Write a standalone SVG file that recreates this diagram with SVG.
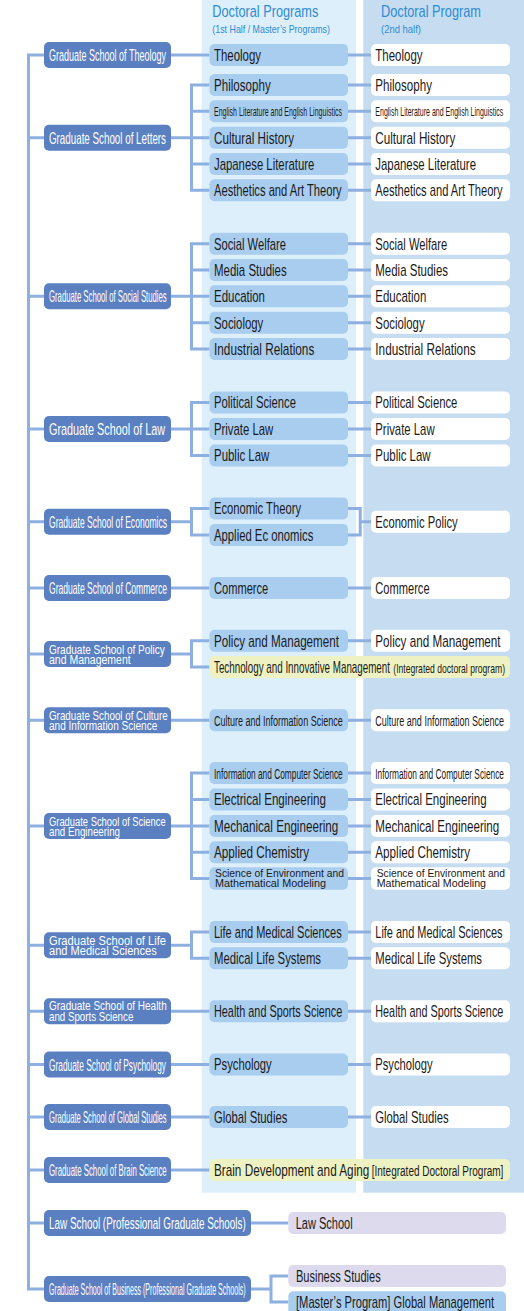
<svg xmlns="http://www.w3.org/2000/svg" width="524" height="1311" viewBox="0 0 524 1311">
<style>
.band1{fill:#ddeffa}.band2{fill:#c6ddf1}
.sch{fill:#5a80c2}.p1{fill:#a9cdef}.p2{fill:#ffffff}.py{fill:#eef2c2}.pl{fill:#dddaee}
.conn{fill:none;stroke:#8db0e0;stroke-width:3}
text{font-family:"Liberation Sans",Arial,sans-serif}
.ts{fill:#ffffff}.tp{fill:#1a1a1a}.hd{fill:#2e8bd3}
</style>
<rect class="band1" x="201.7" y="0" width="154.3" height="1192.7"/>
<rect class="band2" x="363.3" y="0" width="160.7" height="1192.7"/>
<g id="header">
<text class="hd" font-size="12.47" textLength="106" lengthAdjust="spacingAndGlyphs" transform="translate(212.3 17) scale(1 1.363)">Doctoral Programs</text>
<text class="hd" font-size="7.85" textLength="117.7" lengthAdjust="spacingAndGlyphs" transform="translate(212.3 33) scale(1 1.338)">(1st Half / Master’s Programs)</text>
<text class="hd" font-size="12.5" textLength="100" lengthAdjust="spacingAndGlyphs" transform="translate(381 17) scale(1 1.36)">Doctoral Program</text>
<text class="hd" font-size="8" textLength="40" lengthAdjust="spacingAndGlyphs" transform="translate(381 33) scale(1 1.3125)">(2nd half)</text>
</g>
<g id="connectors" class="conn">
<path d="M44 55 H28.5 V1289 H44"/>
<path d="M28.5 137.7 H44 M28.5 296.3 H44 M28.5 429 H44 M28.5 521.7 H44 M28.5 588 H44 M28.5 654 H44 M28.5 720.3 H44 M28.5 826 H44 M28.5 945.3 H44 M28.5 1011.3 H44 M28.5 1064.5 H44 M28.5 1117 H44 M28.5 1170 H44 M28.5 1223 H44"/>
<path d="M171 55 H209.5 M348 55 H371"/>
<path d="M171 137.7 H191.5 M209.5 85 H191.5 V190.3 H209.5 M191.5 111.3 H209.5 M191.5 137.7 H209.5 M191.5 164 H209.5"/>
<path d="M348 85 H371 M348 111.3 H371 M348 137.7 H371 M348 164 H371 M348 190.3 H371"/>
<path d="M171 296.3 H191.5 M209.5 243.7 H191.5 V349 H209.5 M191.5 270 H209.5 M191.5 296.3 H209.5 M191.5 322.7 H209.5"/>
<path d="M348 243.7 H371 M348 270 H371 M348 296.3 H371 M348 322.7 H371 M348 349 H371"/>
<path d="M171 429 H191.5 M209.5 402.5 H191.5 V455.5 H209.5 M191.5 429 H209.5"/>
<path d="M348 402.5 H371 M348 429 H371 M348 455.5 H371"/>
<path d="M171 521.7 H191.5 M209.5 508.5 H191.5 V535 H209.5"/>
<path d="M348 508.5 H360.2 V535 H348 M360.2 521.7 H371"/>
<path d="M171 588 H209.5 M348 588 H371"/>
<path d="M171 654 H191.5 M209.5 640.7 H191.5 V667 H209.5 M348 640.7 H371"/>
<path d="M171 720.3 H209.5 M348 720.3 H371"/>
<path d="M171 826 H191.5 M209.5 773 H191.5 V878.5 H209.5 M191.5 799.5 H209.5 M191.5 826 H209.5 M191.5 852.3 H209.5"/>
<path d="M348 773 H371 M348 799.5 H371 M348 826 H371 M348 852.3 H371 M348 878.5 H371"/>
<path d="M171 945.3 H191.5 M209.5 932 H191.5 V958.3 H209.5 M348 932 H371 M348 958.3 H371"/>
<path d="M171 1011.3 H209.5 M348 1011.3 H371"/>
<path d="M171 1064.5 H209.5 M348 1064.5 H371"/>
<path d="M171 1117 H209.5 M348 1117 H371"/>
<path d="M171 1170 H209.5"/>
<path d="M251 1223 H288.3"/>
<path d="M251 1289 H271 M288.3 1276 H271 V1302 H288.3"/>
</g>
<g id="theology">
<rect class="sch" x="44" y="42" width="127" height="26" rx="5"/>
<text class="ts" font-size="8.67" textLength="117" lengthAdjust="spacingAndGlyphs" transform="translate(49 61) scale(1 1.903)">Graduate School of Theology</text>
<rect class="p1" x="209.5" y="44" width="138.5" height="22" rx="5"/>
<text class="tp" font-size="11.75" textLength="47" lengthAdjust="spacingAndGlyphs" transform="translate(214 60.8) scale(1 1.362)">Theology</text>
<rect class="p2" x="371" y="44" width="139" height="22" rx="5"/>
<text class="tp" font-size="11.75" textLength="47.3" lengthAdjust="spacingAndGlyphs" transform="translate(375.3 60.8) scale(1 1.362)">Theology</text>
</g>
<g id="letters">
<rect class="sch" x="44" y="124.7" width="127" height="26" rx="5"/>
<text class="ts" font-size="9" textLength="117" lengthAdjust="spacingAndGlyphs" transform="translate(49 143.7) scale(1 1.833)">Graduate School of Letters</text>
<rect class="p1" x="209.5" y="74" width="138.5" height="22" rx="5"/>
<text class="tp" font-size="11.34" textLength="56.7" lengthAdjust="spacingAndGlyphs" transform="translate(214 90.8) scale(1 1.411)">Philosophy</text>
<rect class="p2" x="371" y="74" width="139" height="22" rx="5"/>
<text class="tp" font-size="11.34" textLength="56.7" lengthAdjust="spacingAndGlyphs" transform="translate(375.3 90.8) scale(1 1.411)">Philosophy</text>
<rect class="p1" x="209.5" y="100.3" width="138.5" height="22" rx="5"/>
<text class="tp" font-size="6.1" textLength="128" lengthAdjust="spacingAndGlyphs" transform="translate(214 115.6) scale(1 2.05)">English Literature and English Linguistics</text>
<rect class="p2" x="371" y="100.3" width="139" height="22" rx="5"/>
<text class="tp" font-size="6.1" textLength="128" lengthAdjust="spacingAndGlyphs" transform="translate(375.3 115.6) scale(1 2.05)">English Literature and English Linguistics</text>
<rect class="p1" x="209.5" y="126.7" width="138.5" height="22" rx="5"/>
<text class="tp" font-size="10" textLength="80" lengthAdjust="spacingAndGlyphs" transform="translate(214 143.5) scale(1 1.6)">Cultural History</text>
<rect class="p2" x="371" y="126.7" width="139" height="22" rx="5"/>
<text class="tp" font-size="10" textLength="80" lengthAdjust="spacingAndGlyphs" transform="translate(375.3 143.5) scale(1 1.6)">Cultural History</text>
<rect class="p1" x="209.5" y="153" width="138.5" height="22" rx="5"/>
<text class="tp" font-size="10.56" textLength="100.3" lengthAdjust="spacingAndGlyphs" transform="translate(214 169.8) scale(1 1.515)">Japanese Literature</text>
<rect class="p2" x="371" y="153" width="139" height="22" rx="5"/>
<text class="tp" font-size="10.56" textLength="100.7" lengthAdjust="spacingAndGlyphs" transform="translate(375.3 169.8) scale(1 1.515)">Japanese Literature</text>
<rect class="p1" x="209.5" y="179.3" width="138.5" height="22" rx="5"/>
<text class="tp" font-size="10.2" textLength="127.7" lengthAdjust="spacingAndGlyphs" transform="translate(214 196.1) scale(1 1.569)">Aesthetics and Art Theory</text>
<rect class="p2" x="371" y="179.3" width="139" height="22" rx="5"/>
<text class="tp" font-size="10.2" textLength="127.3" lengthAdjust="spacingAndGlyphs" transform="translate(375.3 196.1) scale(1 1.569)">Aesthetics and Art Theory</text>
</g>
<g id="social">
<rect class="sch" x="44" y="283.3" width="127" height="26" rx="5"/>
<text class="ts" font-size="7.13" textLength="117.7" lengthAdjust="spacingAndGlyphs" transform="translate(49 302.3) scale(1 2.314)">Graduate School of Social Studies</text>
<rect class="p1" x="209.5" y="232.7" width="138.5" height="22" rx="5"/>
<text class="tp" font-size="10.29" textLength="72" lengthAdjust="spacingAndGlyphs" transform="translate(214 249.5) scale(1 1.556)">Social Welfare</text>
<rect class="p2" x="371" y="232.7" width="139" height="22" rx="5"/>
<text class="tp" font-size="10.29" textLength="72" lengthAdjust="spacingAndGlyphs" transform="translate(375.3 249.5) scale(1 1.556)">Social Welfare</text>
<rect class="p1" x="209.5" y="259" width="138.5" height="22" rx="5"/>
<text class="tp" font-size="11.18" textLength="72.7" lengthAdjust="spacingAndGlyphs" transform="translate(214 275.8) scale(1 1.431)">Media Studies</text>
<rect class="p2" x="371" y="259" width="139" height="22" rx="5"/>
<text class="tp" font-size="11.18" textLength="72.7" lengthAdjust="spacingAndGlyphs" transform="translate(375.3 275.8) scale(1 1.431)">Media Studies</text>
<rect class="p1" x="209.5" y="285.3" width="138.5" height="22" rx="5"/>
<text class="tp" font-size="11.33" textLength="51" lengthAdjust="spacingAndGlyphs" transform="translate(214 302.1) scale(1 1.412)">Education</text>
<rect class="p2" x="371" y="285.3" width="139" height="22" rx="5"/>
<text class="tp" font-size="11.33" textLength="51" lengthAdjust="spacingAndGlyphs" transform="translate(375.3 302.1) scale(1 1.412)">Education</text>
<rect class="p1" x="209.5" y="311.7" width="138.5" height="22" rx="5"/>
<text class="tp" font-size="10.96" textLength="49.3" lengthAdjust="spacingAndGlyphs" transform="translate(214 328.5) scale(1 1.46)">Sociology</text>
<rect class="p2" x="371" y="311.7" width="139" height="22" rx="5"/>
<text class="tp" font-size="10.96" textLength="49.3" lengthAdjust="spacingAndGlyphs" transform="translate(375.3 328.5) scale(1 1.46)">Sociology</text>
<rect class="p1" x="209.5" y="338" width="138.5" height="22" rx="5"/>
<text class="tp" font-size="10.03" textLength="100.3" lengthAdjust="spacingAndGlyphs" transform="translate(214 354.8) scale(1 1.595)">Industrial Relations</text>
<rect class="p2" x="371" y="338" width="139" height="22" rx="5"/>
<text class="tp" font-size="10.03" textLength="100.3" lengthAdjust="spacingAndGlyphs" transform="translate(375.3 354.8) scale(1 1.595)">Industrial Relations</text>
</g>
<g id="law">
<rect class="sch" x="44" y="416" width="127" height="26" rx="5"/>
<text class="ts" font-size="10.55" textLength="116" lengthAdjust="spacingAndGlyphs" transform="translate(49 435) scale(1 1.564)">Graduate School of Law</text>
<rect class="p1" x="209.5" y="391.5" width="138.5" height="22" rx="5"/>
<text class="tp" font-size="9.65" textLength="82" lengthAdjust="spacingAndGlyphs" transform="translate(214 408.3) scale(1 1.658)">Political Science</text>
<rect class="p2" x="371" y="391.5" width="139" height="22" rx="5"/>
<text class="tp" font-size="9.65" textLength="82" lengthAdjust="spacingAndGlyphs" transform="translate(375.3 408.3) scale(1 1.658)">Political Science</text>
<rect class="p1" x="209.5" y="418" width="138.5" height="22" rx="5"/>
<text class="tp" font-size="10.78" textLength="59.3" lengthAdjust="spacingAndGlyphs" transform="translate(214 434.8) scale(1 1.484)">Private Law</text>
<rect class="p2" x="371" y="418" width="139" height="22" rx="5"/>
<text class="tp" font-size="10.78" textLength="59.3" lengthAdjust="spacingAndGlyphs" transform="translate(375.3 434.8) scale(1 1.484)">Private Law</text>
<rect class="p1" x="209.5" y="444.5" width="138.5" height="22" rx="5"/>
<text class="tp" font-size="11.06" textLength="55.3" lengthAdjust="spacingAndGlyphs" transform="translate(214 461.3) scale(1 1.447)">Public Law</text>
<rect class="p2" x="371" y="444.5" width="139" height="22" rx="5"/>
<text class="tp" font-size="11.06" textLength="55.3" lengthAdjust="spacingAndGlyphs" transform="translate(375.3 461.3) scale(1 1.447)">Public Law</text>
</g>
<g id="economics">
<rect class="sch" x="44" y="508.7" width="127" height="26" rx="5"/>
<text class="ts" font-size="8.43" textLength="118" lengthAdjust="spacingAndGlyphs" transform="translate(49 527.7) scale(1 1.957)">Graduate School of Economics</text>
<rect class="p1" x="209.5" y="497.5" width="138.5" height="22" rx="5"/>
<text class="tp" font-size="11.6" textLength="87" lengthAdjust="spacingAndGlyphs" transform="translate(214 514.3) scale(1 1.379)">Economic Theory</text>
<rect class="p1" x="209.5" y="524" width="138.5" height="22" rx="5"/>
<text class="tp" font-size="11.03" textLength="99.3" lengthAdjust="spacingAndGlyphs" transform="translate(214 540.8) scale(1 1.45)">Applied Ec onomics</text>
<rect class="p2" x="371" y="510.7" width="139" height="22" rx="5"/>
<text class="tp" font-size="10.97" textLength="82.3" lengthAdjust="spacingAndGlyphs" transform="translate(375.3 527.5) scale(1 1.458)">Economic Policy</text>
</g>
<g id="commerce">
<rect class="sch" x="44" y="575" width="127" height="26" rx="5"/>
<text class="ts" font-size="8.74" textLength="118" lengthAdjust="spacingAndGlyphs" transform="translate(49 594) scale(1 1.888)">Graduate School of Commerce</text>
<rect class="p1" x="209.5" y="577" width="138.5" height="22" rx="5"/>
<text class="tp" font-size="12.5" textLength="54.3" lengthAdjust="spacingAndGlyphs" transform="translate(214 593.8) scale(1 1.28)">Commerce</text>
<rect class="p2" x="371" y="577" width="139" height="22" rx="5"/>
<text class="tp" font-size="12.5" textLength="54.3" lengthAdjust="spacingAndGlyphs" transform="translate(375.3 593.8) scale(1 1.28)">Commerce</text>
</g>
<g id="policy">
<rect class="sch" x="44" y="641" width="127" height="26" rx="5"/>
<text class="ts" font-size="9.26" textLength="115.7" lengthAdjust="spacingAndGlyphs" transform="translate(49 653.5) scale(1 1.458)">Graduate School of Policy</text>
<text class="ts" font-size="11" textLength="81.7" lengthAdjust="spacingAndGlyphs" transform="translate(49 664) scale(1 1.227)">and Management</text>
<rect class="p1" x="209.5" y="629.7" width="138.5" height="22" rx="5"/>
<text class="tp" font-size="11.9" textLength="125" lengthAdjust="spacingAndGlyphs" transform="translate(214 646.5) scale(1 1.344)">Policy and Management</text>
<rect class="p2" x="371" y="629.7" width="139" height="22" rx="5"/>
<text class="tp" font-size="11.9" textLength="125.3" lengthAdjust="spacingAndGlyphs" transform="translate(375.3 646.5) scale(1 1.344)">Policy and Management</text>
<rect class="py" x="209.5" y="656" width="300.5" height="22" rx="5"/>
<text class="tp" font-size="9.78" textLength="176" lengthAdjust="spacingAndGlyphs" transform="translate(214 672.6) scale(1 1.636)">Technology and Innovative Management</text>
<text class="tp" font-size="7.7" textLength="111.7" lengthAdjust="spacingAndGlyphs" transform="translate(393.3 672.6) scale(1 1.623)">(Integrated doctoral program)</text>
</g>
<g id="culture">
<rect class="sch" x="44" y="707.3" width="127" height="26" rx="5"/>
<text class="ts" font-size="9.13" textLength="118.7" lengthAdjust="spacingAndGlyphs" transform="translate(49 719.8) scale(1 1.479)">Graduate School of Culture</text>
<text class="ts" font-size="9.42" textLength="108.3" lengthAdjust="spacingAndGlyphs" transform="translate(49 730.3) scale(1 1.433)">and Information Science</text>
<rect class="p1" x="209.5" y="709.3" width="138.5" height="22" rx="5"/>
<text class="tp" font-size="8.3" textLength="128.7" lengthAdjust="spacingAndGlyphs" transform="translate(214 725.5) scale(1 1.747)">Culture and Information Science</text>
<rect class="p2" x="371" y="709.3" width="139" height="22" rx="5"/>
<text class="tp" font-size="8.3" textLength="128.7" lengthAdjust="spacingAndGlyphs" transform="translate(375.3 725.5) scale(1 1.747)">Culture and Information Science</text>
</g>
<g id="science">
<rect class="sch" x="44" y="813" width="127" height="26" rx="5"/>
<text class="ts" font-size="8.98" textLength="116.7" lengthAdjust="spacingAndGlyphs" transform="translate(49 825.5) scale(1 1.503)">Graduate School of Science</text>
<text class="ts" font-size="9.47" textLength="71" lengthAdjust="spacingAndGlyphs" transform="translate(49 836) scale(1 1.426)">and Engineering</text>
<rect class="p1" x="209.5" y="762" width="138.5" height="22" rx="5"/>
<text class="tp" font-size="8.04" textLength="128.7" lengthAdjust="spacingAndGlyphs" transform="translate(214 778.5) scale(1 1.803)">Information and Computer Science</text>
<rect class="p2" x="371" y="762" width="139" height="22" rx="5"/>
<text class="tp" font-size="8.04" textLength="128.7" lengthAdjust="spacingAndGlyphs" transform="translate(375.3 778.5) scale(1 1.803)">Information and Computer Science</text>
<rect class="p1" x="209.5" y="788.5" width="138.5" height="22" rx="5"/>
<text class="tp" font-size="10.18" textLength="112" lengthAdjust="spacingAndGlyphs" transform="translate(214 805.3) scale(1 1.571)">Electrical Engineering</text>
<rect class="p2" x="371" y="788.5" width="139" height="22" rx="5"/>
<text class="tp" font-size="10.18" textLength="111.3" lengthAdjust="spacingAndGlyphs" transform="translate(375.3 805.3) scale(1 1.571)">Electrical Engineering</text>
<rect class="p1" x="209.5" y="815" width="138.5" height="22" rx="5"/>
<text class="tp" font-size="11.3" textLength="124.3" lengthAdjust="spacingAndGlyphs" transform="translate(214 831.8) scale(1 1.416)">Mechanical Engineering</text>
<rect class="p2" x="371" y="815" width="139" height="22" rx="5"/>
<text class="tp" font-size="11.3" textLength="124" lengthAdjust="spacingAndGlyphs" transform="translate(375.3 831.8) scale(1 1.416)">Mechanical Engineering</text>
<rect class="p1" x="209.5" y="841.3" width="138.5" height="22" rx="5"/>
<text class="tp" font-size="11.18" textLength="95" lengthAdjust="spacingAndGlyphs" transform="translate(214 858.1) scale(1 1.431)">Applied Chemistry</text>
<rect class="p2" x="371" y="841.3" width="139" height="22" rx="5"/>
<text class="tp" font-size="11.18" textLength="94.7" lengthAdjust="spacingAndGlyphs" transform="translate(375.3 858.1) scale(1 1.431)">Applied Chemistry</text>
<rect class="p1" x="209.5" y="867.3" width="138.5" height="22.5" rx="5"/>
<text class="tp" font-size="9.92" textLength="129" lengthAdjust="spacingAndGlyphs" transform="translate(215 876.7) scale(1 1.058)">Science of Environment and</text>
<text class="tp" font-size="10.5" textLength="111" lengthAdjust="spacingAndGlyphs" transform="translate(215 886.7)">Mathematical Modeling</text>
<rect class="p2" x="371" y="867.3" width="139" height="22.5" rx="5"/>
<text class="tp" font-size="9.92" textLength="128.3" lengthAdjust="spacingAndGlyphs" transform="translate(376.7 876.7) scale(1 1.058)">Science of Environment and</text>
<text class="tp" font-size="10.5" textLength="109.3" lengthAdjust="spacingAndGlyphs" transform="translate(376.7 886.7)">Mathematical Modeling</text>
</g>
<g id="life">
<rect class="sch" x="44" y="932.3" width="127" height="26" rx="5"/>
<text class="ts" font-size="10.17" textLength="117" lengthAdjust="spacingAndGlyphs" transform="translate(49 944.5) scale(1 1.327)">Graduate School of Life</text>
<text class="ts" font-size="10.77" textLength="107.7" lengthAdjust="spacingAndGlyphs" transform="translate(49 955) scale(1 1.253)">and Medical Sciences</text>
<rect class="p1" x="209.5" y="921" width="138.5" height="22" rx="5"/>
<text class="tp" font-size="10.2" textLength="127.7" lengthAdjust="spacingAndGlyphs" transform="translate(214 937.8) scale(1 1.569)">Life and Medical Sciences</text>
<rect class="p2" x="371" y="921" width="139" height="22" rx="5"/>
<text class="tp" font-size="10.2" textLength="127.3" lengthAdjust="spacingAndGlyphs" transform="translate(375.3 937.8) scale(1 1.569)">Life and Medical Sciences</text>
<rect class="p1" x="209.5" y="947.3" width="138.5" height="22" rx="5"/>
<text class="tp" font-size="10.7" textLength="107" lengthAdjust="spacingAndGlyphs" transform="translate(214 964.1) scale(1 1.495)">Medical Life Systems</text>
<rect class="p2" x="371" y="947.3" width="139" height="22" rx="5"/>
<text class="tp" font-size="10.7" textLength="106.7" lengthAdjust="spacingAndGlyphs" transform="translate(375.3 964.1) scale(1 1.495)">Medical Life Systems</text>
</g>
<g id="health">
<rect class="sch" x="44" y="998.3" width="127" height="26" rx="5"/>
<text class="ts" font-size="9.42" textLength="117.7" lengthAdjust="spacingAndGlyphs" transform="translate(49 1010.3) scale(1 1.433)">Graduate School of Health</text>
<text class="ts" font-size="9.37" textLength="84.3" lengthAdjust="spacingAndGlyphs" transform="translate(49 1020.8) scale(1 1.441)">and Sports Science</text>
<rect class="p1" x="209.5" y="1000.3" width="138.5" height="22" rx="5"/>
<text class="tp" font-size="10.26" textLength="128.3" lengthAdjust="spacingAndGlyphs" transform="translate(214 1017.1) scale(1 1.56)">Health and Sports Science</text>
<rect class="p2" x="371" y="1000.3" width="139" height="22" rx="5"/>
<text class="tp" font-size="10.26" textLength="128" lengthAdjust="spacingAndGlyphs" transform="translate(375.3 1017.1) scale(1 1.56)">Health and Sports Science</text>
</g>
<g id="psychology">
<rect class="sch" x="44" y="1051.5" width="127" height="26" rx="5"/>
<text class="ts" font-size="8.07" textLength="117" lengthAdjust="spacingAndGlyphs" transform="translate(49 1070.5) scale(1 2.045)">Graduate School of Psychology</text>
<rect class="p1" x="209.5" y="1053.5" width="138.5" height="22" rx="5"/>
<text class="tp" font-size="11.5" textLength="57.7" lengthAdjust="spacingAndGlyphs" transform="translate(214 1070.3) scale(1 1.391)">Psychology</text>
<rect class="p2" x="371" y="1053.5" width="139" height="22" rx="5"/>
<text class="tp" font-size="11.5" textLength="57.3" lengthAdjust="spacingAndGlyphs" transform="translate(375.3 1070.3) scale(1 1.391)">Psychology</text>
</g>
<g id="global">
<rect class="sch" x="44" y="1104" width="127" height="26" rx="5"/>
<text class="ts" font-size="7.13" textLength="117.7" lengthAdjust="spacingAndGlyphs" transform="translate(49 1123) scale(1 2.314)">Graduate School of Global Studies</text>
<rect class="p1" x="209.5" y="1106" width="138.5" height="22" rx="5"/>
<text class="tp" font-size="10.47" textLength="73.3" lengthAdjust="spacingAndGlyphs" transform="translate(214 1122.8) scale(1 1.528)">Global Studies</text>
<rect class="p2" x="371" y="1106" width="139" height="22" rx="5"/>
<text class="tp" font-size="10.47" textLength="73.3" lengthAdjust="spacingAndGlyphs" transform="translate(375.3 1122.8) scale(1 1.528)">Global Studies</text>
</g>
<g id="brain">
<rect class="sch" x="44" y="1157" width="127" height="26" rx="5"/>
<text class="ts" font-size="7.36" textLength="117.7" lengthAdjust="spacingAndGlyphs" transform="translate(49 1176) scale(1 2.242)">Graduate School of Brain Science</text>
<rect class="py" x="209.5" y="1159" width="300.5" height="22" rx="5"/>
<text class="tp" font-size="11.5" textLength="155.3" lengthAdjust="spacingAndGlyphs" transform="translate(214 1175.8) scale(1 1.391)">Brain Development and Aging</text>
<text class="tp" font-size="9.08" textLength="131.7" lengthAdjust="spacingAndGlyphs" transform="translate(371.7 1175.8) scale(1 1.597)">[Integrated Doctoral Program]</text>
</g>
<g id="lawschool">
<rect class="sch" x="44" y="1210" width="207" height="26" rx="5"/>
<text class="ts" font-size="9.37" textLength="196.7" lengthAdjust="spacingAndGlyphs" transform="translate(49 1229) scale(1 1.761)">Law School (Professional Graduate Schools)</text>
<rect class="pl" x="288.3" y="1212" width="217.7" height="22" rx="5"/>
<text class="tp" font-size="11.4" textLength="57" lengthAdjust="spacingAndGlyphs" transform="translate(295.7 1228.8) scale(1 1.404)">Law School</text>
</g>
<g id="business">
<rect class="sch" x="44" y="1276" width="207" height="26" rx="5"/>
<text class="ts" font-size="6.67" textLength="196.7" lengthAdjust="spacingAndGlyphs" transform="translate(49 1295) scale(1 2.474)">Graduate School of Business (Professional Graduate Schools)</text>
<rect class="pl" x="288.3" y="1265" width="217.7" height="22" rx="5"/>
<text class="tp" font-size="10.59" textLength="84.7" lengthAdjust="spacingAndGlyphs" transform="translate(296 1281.8) scale(1 1.511)">Business Studies</text>
<rect class="p1" x="288.3" y="1291.3" width="217.7" height="24" rx="5"/>
<text class="tp" font-size="11" textLength="198" lengthAdjust="spacingAndGlyphs" transform="translate(296 1307.8) scale(1 1.455)">[Master’s Program] Global Management</text>
</g>
</svg>
